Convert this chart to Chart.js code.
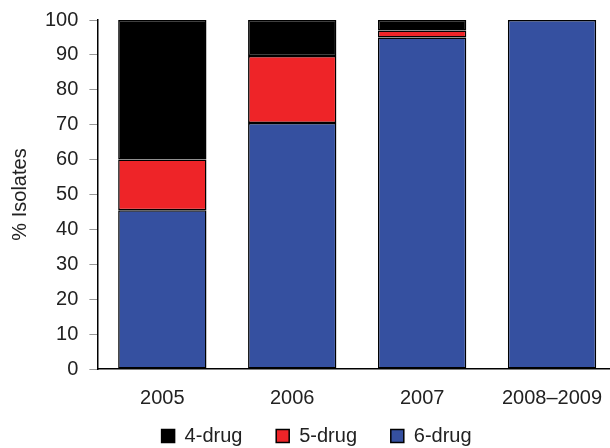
<!DOCTYPE html>
<html>
<head>
<meta charset="utf-8">
<script src="https://cdn.jsdelivr.net/npm/chart.js@4"></script>
<style>
  html, body { margin: 0; padding: 0; background: #fff; overflow: hidden; }
  #wrap { width: 620px; height: 448px; }
</style>
</head>
<body>
<div id="wrap"><canvas id="chart" width="620" height="448"></canvas></div>
<script>
const years = ["2005", "2006", "2007", "2008–2009"];
const sixDrug = [45.5, 70.5, 95, 100];
const fiveDrug = [14.5, 19.2, 2, 0];
const fourDrug = [40, 10.3, 3, 0];
const yTicks = [0, 10, 20, 30, 40, 50, 60, 70, 80, 90, 100];

const family = "'Liberation Sans', Arial, sans-serif";

const dataset = (label, values, color) => ({
  label: label,
  data: values,
  backgroundColor: color,
  borderColor: "#000",
  borderWidth: 1.5,
  borderSkipped: false,
  categoryPercentage: 1,
  barPercentage: 0.68,
});

// nudge the legend row to where the original figure has it
const legendOffset = {
  id: "legendOffset",
  afterLayout(c) {
    const dx = 22, dy = 8;
    c.legend.left += dx;
    c.legend.right += dx;
    c.legend.top += dy;
    c.legend.bottom += dy;
  },
};

const chart = new Chart(document.getElementById("chart"), {
  type: "bar",
  data: {
    labels: years,
    datasets: [
      dataset("6-drug", sixDrug, "#3550a0"),
      dataset("5-drug", fiveDrug, "#ee2428"),
      dataset("4-drug", fourDrug, "#000000"),
    ],
  },
  plugins: [legendOffset],
  options: {
    responsive: false,
    animation: false,
    layout: { padding: { top: 20, left: 0, right: 3, bottom: 0 } },
    plugins: {
      tooltip: { enabled: false },
      legend: {
        position: "bottom",
        reverse: true,
        labels: {
          font: { family: family, size: 20 },
          color: "#222",
          boxWidth: 13,
          boxHeight: 13,
          padding: 6,
          generateLabels: (c) =>
            Chart.defaults.plugins.legend.labels.generateLabels(c).map((l) => ({ ...l, text: l.text + "     " })),
        },
      },
    },
    scales: {
      x: {
        stacked: true,
        grid: { display: true, drawOnChartArea: false, drawTicks: false },
        border: { display: true, color: "#000", width: 1.5 },
        ticks: { font: { family: family, size: 20 }, color: "#222", padding: 17 },
        afterFit: (s) => { s.height -= 15; },
      },
      y: {
        stacked: true,
        min: 0,
        max: 100,
        afterBuildTicks: (axis) => { axis.ticks = yTicks.map((v) => ({ value: v })); },
        grid: { drawOnChartArea: false, drawTicks: true, tickLength: 8, color: "#999" },
        border: { display: true, color: "#000", width: 1.5 },
        ticks: { font: { family: family, size: 20, lineHeight: 0.7 }, color: "#222", padding: 11 },
        title: {
          display: true,
          text: "% Isolates",
          font: { family: family, size: 20 },
          color: "#222",
          padding: { top: 8, bottom: 2 },
        },
      },
    },
  },
});
</script>
</body>
</html>
